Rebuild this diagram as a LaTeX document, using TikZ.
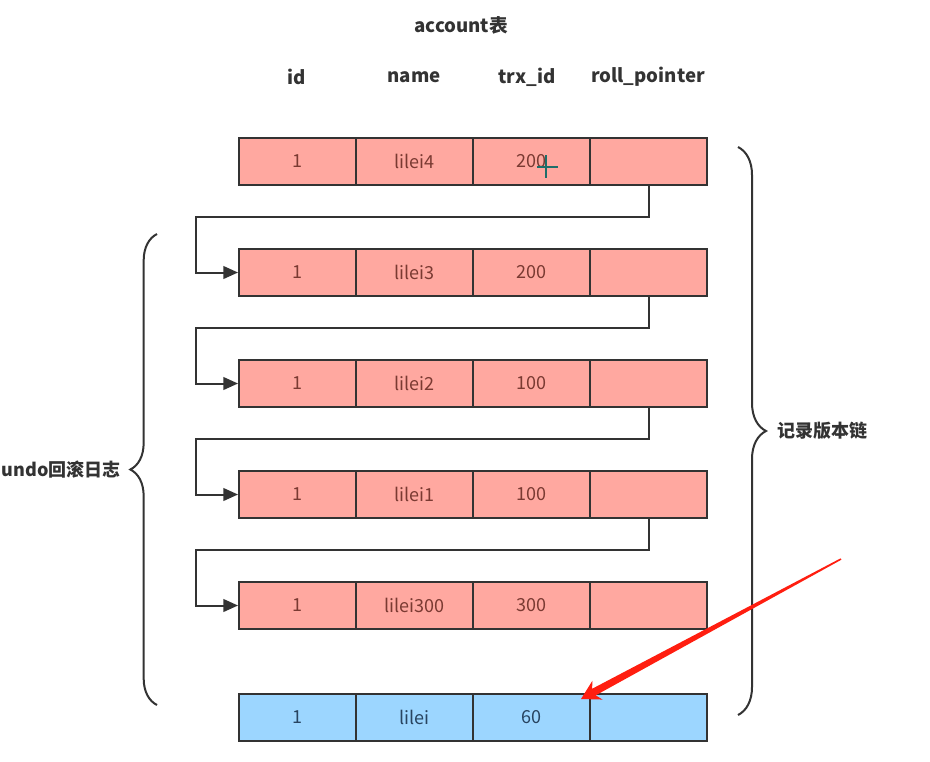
\documentclass[tikz,border=0pt]{standalone}
\usepackage{fontspec}
\setmainfont{Noto Sans CJK SC}
\usetikzlibrary{arrows.meta,decorations.pathreplacing,calc}
\definecolor{pinkfill}{HTML}{FFA8A0}
\definecolor{bluefill}{HTML}{9CD6FF}
\definecolor{edge}{HTML}{333333}
\definecolor{pinktxt}{HTML}{7A3A32}
\definecolor{bluetxt}{HTML}{284460}
\definecolor{redarrow}{HTML}{FF1E10}
\definecolor{cursorcol}{HTML}{1E6E6A}
\begin{document}
\begin{tikzpicture}[x=0.75pt,y=-0.75pt,
  cell/.style={draw=edge,line width=1.5pt,minimum width=87.75pt,minimum height=35.25pt,inner sep=0pt,font=\fontsize{13.5}{15}\selectfont},
  head/.style={font=\fontsize{14}{16}\selectfont\bfseries,text=edge,inner sep=0pt},
  conn/.style={draw=edge,line width=1.5pt,-{Triangle[length=11pt,width=9.5pt]}},
  bracestyle/.style={draw=edge,line width=1.5pt,decorate,decoration={brace,amplitude=20pt,aspect=0.5}}]
\useasboundingbox (0,0) rectangle (930,761);
\fill[white] (0,0) rectangle (930,761);

% title and headers
\node[head] (title) at (461,25) {account表};
\node[head] (h1) at (297,77) {id};
\node[head] (h2) at (414,77) {name};
\node[head] (h3) at (527,77) {trx\_id};
\node[head] (h4) at (648,77) {roll\_pointer};

% rows
\foreach \i/\y/\nm/\tx/\fc/\tc in {1/161.5/lilei4/200/pinkfill/pinktxt,
                                  2/272.5/lilei3/200/pinkfill/pinktxt,
                                  3/383.5/lilei2/100/pinkfill/pinktxt,
                                  4/494.5/lilei1/100/pinkfill/pinktxt,
                                  5/605.5/lilei300/300/pinkfill/pinktxt,
                                  6/717/lilei/60/bluefill/bluetxt}{
  \node[cell,fill=\fc,text=\tc] (r\i c1) at (297.5,\y) {1};
  \node[cell,fill=\fc,text=\tc] (r\i c2) at (414.5,\y) {\nm};
  \node[cell,fill=\fc,text=\tc] (r\i c3) at (531.5,\y) {\tx};
  \node[cell,fill=\fc,text=\tc] (r\i c4) at (648.5,\y) {};
}

% roll pointer chain
\foreach \a/\b in {1/2,2/3,3/4,4/5}{
  \draw[conn] (r\a c4.south) -- ++(0,31) -| ([xshift=-31.5pt]r\b c1.west) -- (r\b c1.west);
}

% braces
\coordinate (lbA) at (157,705);
\coordinate (lbB) at (157,234);
\draw[bracestyle] (lbA) -- (lbB);
\node[head,anchor=east,font=\fontsize{13.5}{16}\selectfont\bfseries] (undo) at (121,470) {undo回滚日志};

\coordinate (rbA) at (738,147);
\coordinate (rbB) at (738,715);
\draw[bracestyle,decoration={amplitude=21pt}] (rbA) -- (rbB);
\node[head,anchor=west,font=\fontsize{13.5}{16}\selectfont\bfseries] (chain) at (777,431) {记录版本链};

% mouse cursor
\draw[cursorcol,line width=1.6pt] (537,167) -- (558,167) (546,155) -- (546,178);

% red arrow
\coordinate (ra) at (841,559);
\coordinate (rb) at (581,699);
\coordinate (hb) at ($(rb)!14pt!(ra)$);
\coordinate (hn) at ($(rb)!11pt!(ra)$);
\fill[redarrow] (rb) -- ($(hb)!8pt!90:(rb)$) -- ($(hn)!2.8pt!90:(rb)$)
  -- ($(ra)!0.6pt!90:(rb)$) -- ($(ra)!0.6pt!-90:(rb)$)
  -- ($(hn)!2.8pt!-90:(rb)$) -- ($(hb)!8pt!-90:(rb)$) -- cycle;
\end{tikzpicture}
\end{document}
